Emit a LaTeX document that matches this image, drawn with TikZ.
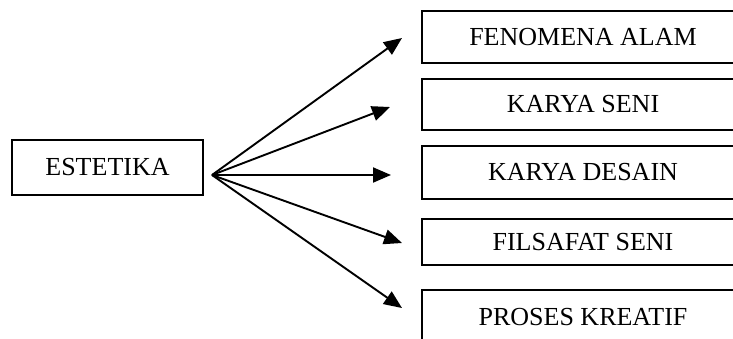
\documentclass[tikz,border=0pt]{standalone}
\usepackage{fontspec}
\setmainfont{Liberation Serif}
\usetikzlibrary{arrows.meta}
\begin{document}
\begin{tikzpicture}[x=1pt,y=-1pt,
  box/.style={draw, line width=1.6pt, rectangle, inner sep=0pt,
    font=\fontsize{26}{30}\selectfont},
  topic/.style={box, minimum width=322pt},
  link/.style={line width=1.9pt, -{Triangle[length=18pt,width=15pt]}}]
  \useasboundingbox (0,0) rectangle (733,338);
  \clip (0,0) rectangle (733,338);

  % source box and the point the arrows fan out from
  \node[box, minimum width=191pt, minimum height=55pt] (est) at (107.5,167.5) {ESTETIKA};
  \coordinate (hub) at (212,175);

  % topic boxes (they run past the right edge)
  \node[topic, minimum height=52pt] (alam)     at (583,37)    {FENOMENA ALAM};
  \node[topic, minimum height=51pt] (seni)     at (583,104.5) {KARYA SENI};
  \node[topic, minimum height=53pt] (desain)   at (583,172.5) {KARYA DESAIN};
  \node[topic, minimum height=46pt] (filsafat) at (583,242)   {FILSAFAT SENI};
  \node[topic, minimum height=54pt] (proses)   at (583,317)   {PROSES KREATIF};

  % arrow tips stop short of the boxes
  \coordinate (t1) at (402,38);
  \coordinate (t2) at (390,107);
  \coordinate (t3) at (391,175);
  \coordinate (t4) at (402,243);
  \coordinate (t5) at (402,308);

  \foreach \t in {t1,t2,t3,t4,t5}
    \draw[link] (hub) -- (\t);
\end{tikzpicture}
\end{document}
